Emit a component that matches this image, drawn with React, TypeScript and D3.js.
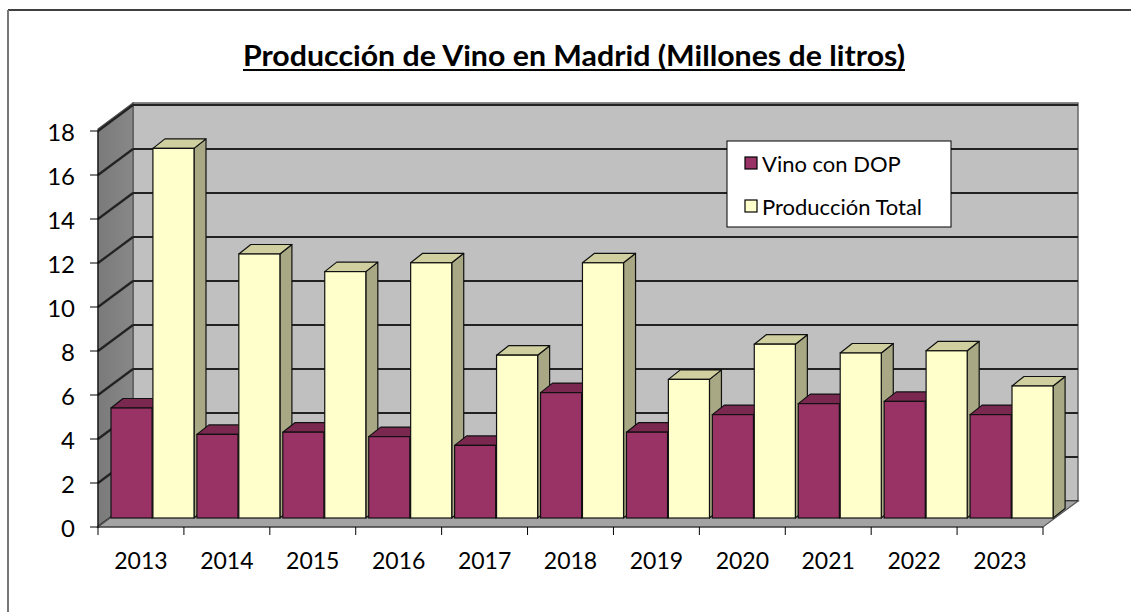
import React from 'react';
import * as d3 from 'd3';

const years = ['2013', '2014', '2015', '2016', '2017', '2018', '2019', '2020', '2021', '2022', '2023'];
const dopValues = [5.0, 3.8, 3.9, 3.7, 3.3, 5.7, 3.9, 4.7, 5.2, 5.3, 4.7];
const totalValues = [16.8, 12.0, 11.2, 11.6, 7.4, 11.6, 6.3, 7.9, 7.5, 7.6, 6.0];
const yTicks = [0, 2, 4, 6, 8, 10, 12, 14, 16, 18];
const seriesNames = ['Vino con DOP', 'Producción Total'];
const title = 'Producción de Vino en Madrid (Millones de litros)';

const FONT = 'Lato, "Open Sans", sans-serif';

const seriesStyle = [
  { front: '#993366', top: '#7a2850', side: '#6e2448' },
  { front: '#ffffcc', top: '#cfcf9f', side: '#a8a884' },
];

export default function App() {
  const W = 1131, H = 612;
  const x = d3.scaleBand<string>().domain(years).range([98, 1043]).padding(0);
  const y = d3.scaleLinear().domain([0, 18]).range([527, 131]);
  const inner = d3.scaleBand<number>().domain([0, 1]).range([1, 84]).paddingInner(0.02);
  const wall = { dx: 35, dy: -26 };
  const front = { dx: 12, dy: -9 };
  const bd = { dx: 12, dy: -9.5 };

  const x0 = x.range()[0];
  const x1 = x.range()[1];
  const wallTop = y(18) + wall.dy - 2;
  const yb = y(0) + front.dy;

  const bars: any[] = [];
  years.forEach((yr, i) => {
    [dopValues[i], totalValues[i]].forEach((v, s) => {
      const bx = (x(yr) as number) + front.dx + (inner(s) as number);
      const w = inner.bandwidth();
      const yt = y(v) + front.dy;
      const st = seriesStyle[s];
      bars.push(
        <g key={yr + s}>
          <polygon
            points={`${bx + w},${yt} ${bx + w + bd.dx},${yt + bd.dy} ${bx + w + bd.dx},${yb + bd.dy} ${bx + w},${yb}`}
            fill={st.side} stroke="#111" strokeWidth={1.2} strokeLinejoin="round" />
          <polygon
            points={`${bx},${yt} ${bx + w},${yt} ${bx + w + bd.dx},${yt + bd.dy} ${bx + bd.dx},${yt + bd.dy}`}
            fill={st.top} stroke="#111" strokeWidth={1.2} strokeLinejoin="round" />
          <rect x={bx} y={yt} width={w} height={yb - yt} fill={st.front} stroke="#111" strokeWidth={1.2} />
        </g>
      );
    });
  });

  return (
    <svg width={W} height={H} style={{ position: 'absolute', left: 0, top: 0, background: '#fff' }}>
      <defs>
        <linearGradient id="sideWall" x1="0" x2="1" y1="0" y2="0">
          <stop offset="0" stopColor="#7a7a7a" />
          <stop offset="1" stopColor="#888888" />
        </linearGradient>
        <filter id="soft" x="-5%" y="-5%" width="110%" height="110%">
          <feGaussianBlur stdDeviation="0.6" />
        </filter>
      </defs>
      {/* frame */}
      <line x1={8} y1={10} x2={W} y2={10} stroke="#000" strokeWidth={1.5} />
      <line x1={8} y1={10} x2={8} y2={H} stroke="#777" strokeWidth={2} />

      {/* title */}
      <text x={574} y={66} textAnchor="middle" fontFamily={FONT} fontWeight="bold" fontSize={28}
        textLength={662} lengthAdjust="spacingAndGlyphs" fill="#000">{title}</text>
      <line x1={243} x2={905} y1={70} y2={70} stroke="#000" strokeWidth={1.8} />

      {/* back wall */}
      <rect x={x0 + wall.dx} y={wallTop} width={x1 - x0} height={y(0) + wall.dy - wallTop}
        fill="#c0c0c0" stroke="#666" strokeWidth={1.5} />
      {/* side wall */}
      <polygon
        points={`${x0},${y(18) - 2} ${x0 + wall.dx},${wallTop} ${x0 + wall.dx},${y(0) + wall.dy} ${x0},${y(0)}`}
        fill="url(#sideWall)" stroke="#555" strokeWidth={1.2} />
      {/* gridlines */}
      <g filter="url(#soft)">
        {yTicks.map(t => (
          <g key={t}>
            <line x1={x0 + wall.dx} x2={x1 + wall.dx} y1={y(t) + wall.dy} y2={y(t) + wall.dy} stroke="#222" strokeWidth={2.2} />
            <line x1={x0} x2={x0 + wall.dx} y1={y(t)} y2={y(t) + wall.dy} stroke="#222" strokeWidth={2.2} />
          </g>
        ))}
      </g>
      {/* floor */}
      <polygon
        points={`${x0},${y(0)} ${x1},${y(0)} ${x1 + wall.dx},${y(0) + wall.dy} ${x0 + wall.dx},${y(0) + wall.dy}`}
        fill="#a3a3a3" stroke="#555" strokeWidth={1.2} />

      {bars}

      {/* axes */}
      <line x1={x0} x2={x0} y1={y(18)} y2={y(0)} stroke="#000" strokeWidth={1} />
      {yTicks.map(t => (
        <g key={'yt' + t}>
          <line x1={x0 - 8} x2={x0} y1={y(t)} y2={y(t)} stroke="#000" strokeWidth={1} />
          <text x={75} y={y(t)} textAnchor="end" dominantBaseline="central" fontFamily={FONT} fontSize={24} fill="#000">{t}</text>
        </g>
      ))}
      <line x1={x0} x2={x1} y1={y(0)} y2={y(0)} stroke="#333" strokeWidth={1} />
      {[...years.map(yr => x(yr) as number), x1].map((tx, i) => (
        <line key={'xt' + i} x1={tx} x2={tx} y1={y(0)} y2={y(0) + 8} stroke="#000" strokeWidth={1} />
      ))}
      {years.map(yr => (
        <text key={'xl' + yr} x={(x(yr) as number) + x.bandwidth() / 2} y={560} textAnchor="middle"
          dominantBaseline="central" fontFamily={FONT} fontSize={23} fill="#000">{yr}</text>
      ))}

      {/* legend */}
      <rect x={727} y={141} width={224} height={86} fill="#fff" stroke="#000" strokeWidth={1} />
      {seriesNames.map((n, i) => (
        <g key={n}>
          <rect x={745} y={157 + i * 43} width={12} height={12} fill={seriesStyle[i].front} stroke="#000" strokeWidth={1.2} />
          <text x={762} y={163 + i * 43} dominantBaseline="central" fontFamily={FONT} fontSize={22} fill="#000">{n}</text>
        </g>
      ))}
    </svg>
  );
}
